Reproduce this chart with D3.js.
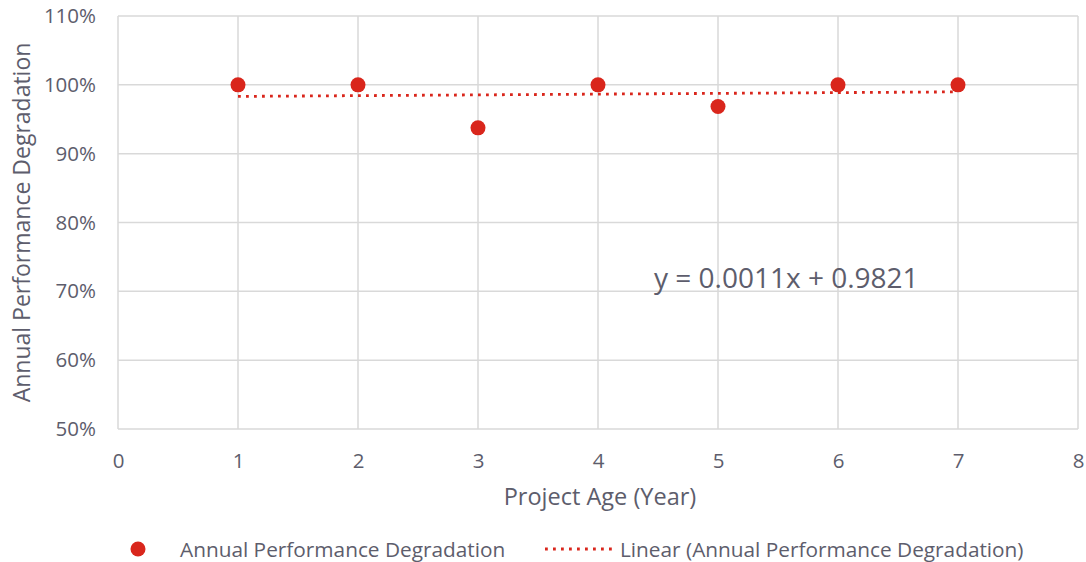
<!DOCTYPE html>
<html>
<head>
<meta charset="utf-8">
<script src="https://cdn.jsdelivr.net/npm/d3@7"></script>
<style>
  body { margin: 0; background: #fff; }
  svg text { font-family: "Open Sans", Lato, sans-serif; fill: #5d5d6c; }
</style>
</head>
<body>
<svg id="chart" width="1086" height="562"></svg>
<script>
// Data
const ages = [1, 2, 3, 4, 5, 6, 7];
const degradation = [1.0, 1.0, 0.9375, 1.0, 0.9685, 1.0, 1.0];
const trendSlope = 0.0011;
const trendIntercept = 0.9821;
const xTicks = [0, 1, 2, 3, 4, 5, 6, 7, 8];
const yTicks = [0.5, 0.6, 0.7, 0.8, 0.9, 1.0, 1.1];

const RED = '#d9261c';
const GRID = '#d9d9d9';

const svg = d3.select('#chart');
const margin = { top: 16, right: 8, bottom: 133, left: 118 };
const width = 1086 - margin.left - margin.right;
const height = 562 - margin.top - margin.bottom;

const g = svg.append('g').attr('transform', `translate(${margin.left},${margin.top})`);

const x = d3.scaleLinear().domain([0, 8]).range([0, width]);
const y = d3.scaleLinear().domain([0.5, 1.1]).range([height, 0]);

// gridlines
g.selectAll('.hgrid').data(yTicks).join('line')
    .attr('x1', 0).attr('x2', width)
    .attr('y1', d => y(d)).attr('y2', d => y(d))
    .attr('stroke', GRID).attr('stroke-width', 1.5);

g.selectAll('.vgrid').data(xTicks).join('line')
    .attr('x1', d => x(d)).attr('x2', d => x(d))
    .attr('y1', 0).attr('y2', height)
    .attr('stroke', GRID).attr('stroke-width', 1.5);

// axes (labels only, lines come from grid)
const yAxis = g.append('g')
    .call(d3.axisLeft(y).tickValues(yTicks).tickFormat(d3.format('.0%')).tickSize(0).tickPadding(22));
yAxis.select('.domain').remove();
yAxis.selectAll('text').attr('font-size', 20.5);

const xAxis = g.append('g')
    .attr('transform', `translate(0,${height})`)
    .call(d3.axisBottom(x).tickValues(xTicks).tickFormat(d3.format('d')).tickSize(0).tickPadding(24));
xAxis.select('.domain').remove();
xAxis.selectAll('text').attr('font-size', 20.5);

// axis titles
svg.append('text')
    .attr('transform', `translate(30,${margin.top + height / 2}) rotate(-90)`)
    .attr('text-anchor', 'middle')
    .attr('font-size', 23)
    .text('Annual Performance Degradation');

svg.append('text')
    .attr('x', margin.left + width / 2 + 2)
    .attr('y', 505)
    .attr('text-anchor', 'middle')
    .attr('font-size', 23.5)
    .text('Project Age (Year)');

// trendline
const tx = d3.extent(ages);
g.append('line')
    .attr('x1', x(tx[0])).attr('x2', x(tx[1]))
    .attr('y1', y(trendSlope * tx[0] + trendIntercept))
    .attr('y2', y(trendSlope * tx[1] + trendIntercept))
    .attr('stroke', RED).attr('stroke-width', 2.8)
    .attr('stroke-dasharray', '2.8,5.2');

// points
g.selectAll('.pt').data(ages).join('circle')
    .attr('cx', d => x(d))
    .attr('cy', (d, i) => y(degradation[i]))
    .attr('r', 7.5)
    .attr('fill', RED);

// equation label
svg.append('text')
    .attr('x', 654).attr('y', 288)
    .attr('font-size', 28)
    .text(`y = ${trendSlope}x + ${trendIntercept}`);

// legend
const leg = svg.append('g').attr('transform', 'translate(0,549)');
leg.append('circle').attr('cx', 138).attr('cy', 0).attr('r', 7.5).attr('fill', RED);
leg.append('text').attr('x', 180).attr('y', 7.5).attr('font-size', 20.8)
    .text('Annual Performance Degradation');
leg.append('line').attr('x1', 545).attr('x2', 612).attr('y1', 0).attr('y2', 0)
    .attr('stroke', RED).attr('stroke-width', 2.8).attr('stroke-dasharray', '2.8,5.2');
leg.append('text').attr('x', 620).attr('y', 7.5).attr('font-size', 20.8)
    .text('Linear (Annual Performance Degradation)');
</script>
</body>
</html>
